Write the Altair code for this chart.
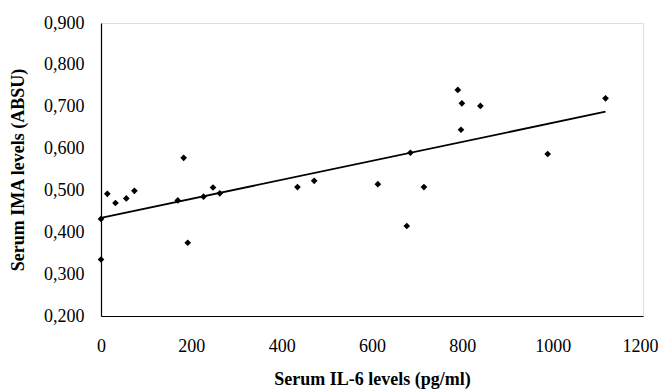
import altair as alt
import pandas as pd

il6 = [0, 0, 14, 32, 56, 74, 170, 183, 192, 227, 248, 263,
       435, 472, 613, 677, 685, 715, 790, 797, 799, 840, 989, 1117]
ima = [0.335, 0.432, 0.492, 0.470, 0.481, 0.499, 0.476, 0.578, 0.375, 0.485, 0.507, 0.493,
       0.508, 0.523, 0.515, 0.415, 0.590, 0.508, 0.740, 0.645, 0.708, 0.702, 0.587, 0.720]

x_ticks = [0, 200, 400, 600, 800, 1000, 1200]
y_ticks = [0.2, 0.3, 0.4, 0.5, 0.6, 0.7, 0.8, 0.9]

df = pd.DataFrame({"il6": il6, "ima": ima})

W, H = 542, 293
FONT = "Liberation Serif"

x_enc = alt.X("il6:Q",
              scale=alt.Scale(domain=[0, 1200], nice=False, zero=False),
              axis=alt.Axis(values=x_ticks, title="Serum IL-6 levels (pg/ml)",
                            format="d",
                            labelOffset={"condition": {"test": "datum.value == 1200", "value": -3},
                                         "value": 0},
                            grid=False, ticks=False, tickSize=0, labelPadding=21,
                            labelFlush=False, labelOverlap=False,
                            domainColor="black", domainWidth=1.2,
                            labelFont=FONT, labelFontSize=18, labelColor="black",
                            titleFont=FONT, titleFontSize=18, titleFontWeight="bold",
                            titleColor="black", titleX=W / 2, titleY=68.7,
                            titleAlign="center", titleBaseline="alphabetic"))
y_enc = alt.Y("ima:Q",
              scale=alt.Scale(domain=[0.2, 0.9], nice=False, zero=False),
              axis=alt.Axis(values=y_ticks, title="Serum IMA levels (ABSU)",
                            labelExpr="replace(format(datum.value, '.3f'), '.', ',')",
                            grid=False, ticks=False, tickSize=0, labelPadding=17,
                            labelFlush=False, labelOverlap=False,
                            domainColor="black", domainWidth=1.2,
                            labelFont=FONT, labelFontSize=18, labelColor="black",
                            titleFont=FONT, titleFontSize=18, titleFontWeight="bold",
                            titleColor="black", titleX=-82.5, titleY=H / 2,
                            titleAngle=270, titleAlign="center", titleBaseline="middle"))

points = alt.Chart(df).mark_point(shape="diamond", filled=True, color="black",
                                  size=45, opacity=1).encode(x=x_enc, y=y_enc)

trend = alt.Chart(df).transform_regression("il6", "ima").mark_line(
    color="black", strokeWidth=1.8).encode(x=x_enc, y=y_enc)

chart = alt.layer(trend, points).properties(
    width=W, height=H,
    autosize=alt.AutoSizeParams(type="none"),
    padding={"left": 93, "top": 15, "right": 15, "bottom": 73},
).configure_view(stroke=None).configure(background="white")

chart.save("out.html", embed_options={"renderer": "svg", "actions": False})
